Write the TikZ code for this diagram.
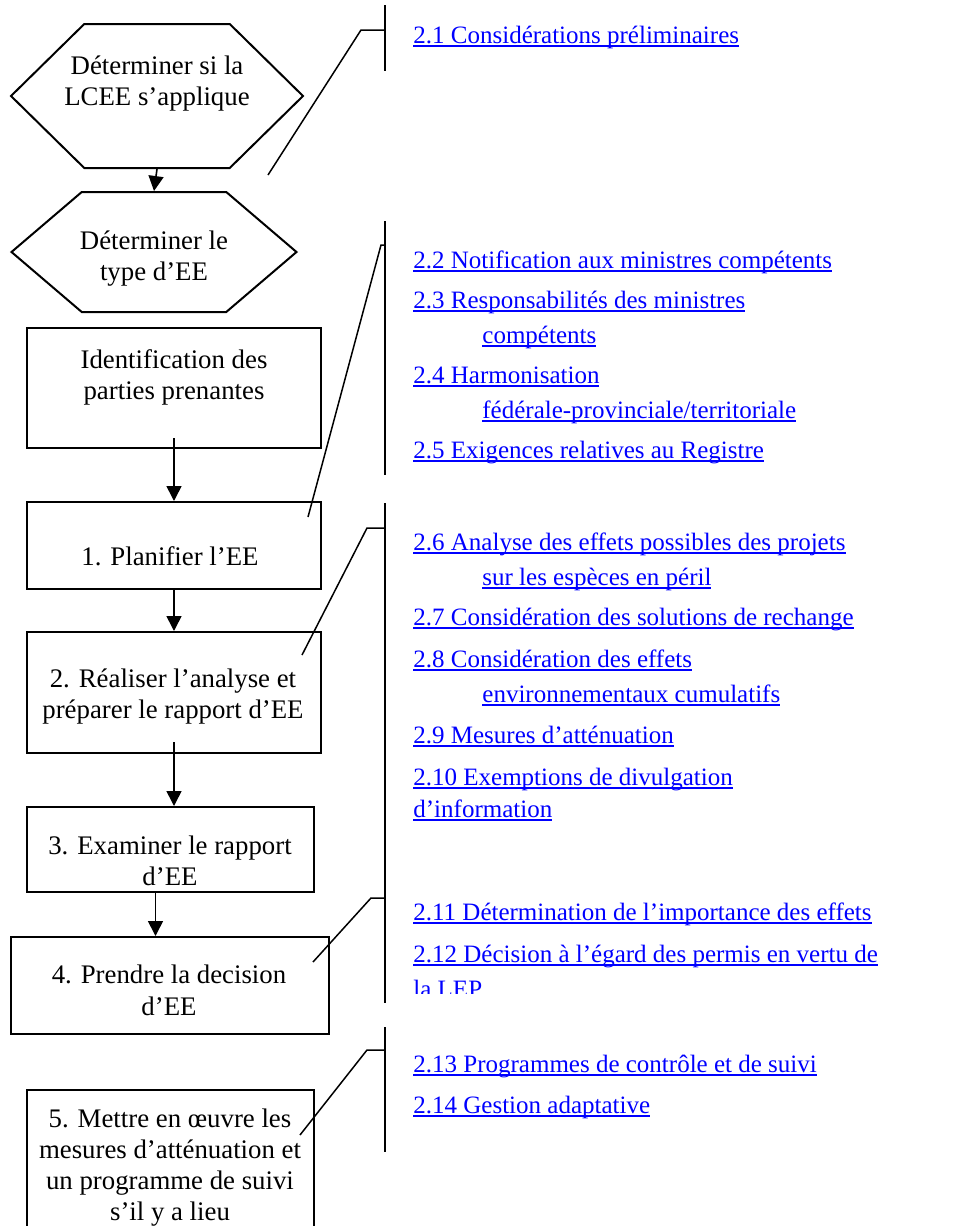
\documentclass[tikz,border=0pt]{standalone}
\usepackage{fontspec}
\setmainfont{Liberation Serif}
\usetikzlibrary{shapes.symbols}
\usetikzlibrary{arrows.meta}
\newcommand{\boxfont}{\fontsize{13.4pt}{15.5pt}\selectfont}
\newcommand{\reffont}{\fontsize{12.5pt}{17.5pt}\selectfont}
\newcommand{\uln}[1]{\leavevmode\setbox0\hbox{#1}\rlap{\rule[-1.9pt]{\wd0}{0.7pt}}\box0}

\begin{document}
\begin{tikzpicture}[x=0.5pt,y=-0.5pt,
  procbox/.style={draw,line width=1pt,rectangle,inner sep=0pt},
  hexbox/.style={draw,line width=1pt,shape=signal,signal to=west and east,inner sep=0pt},
  boxtext/.style={anchor=base,align=center,inner sep=0pt,font=\boxfont},
  reftext/.style={anchor=base west,inner sep=0pt,font=\reffont,text=blue},
  flow/.style={-{Triangle[width=7.5pt,length=7.5pt]},line width=0.8pt},
  bracket/.style={line width=1pt},
  pointer/.style={line width=0.75pt}]
 \useasboundingbox (0,0) rectangle (973,1226);
 \clip (0,0) rectangle (973,1226);
 % left column: steps (text nodes sit on the baseline of their last line)
 \node[hexbox,signal pointer angle=89,minimum width=146pt,minimum height=72pt] (lcee) at (157,96) {};
 \node[boxtext] (lceetext) at (157,105) {Déterminer si la\\LCEE s’applique};
 \node[hexbox,signal pointer angle=81,minimum width=142.5pt,minimum height=60pt] (typeee) at (154,252) {};
 \node[boxtext] (typeeetext) at (154,280) {Déterminer le\\type d’EE};
 \node[procbox,minimum width=147pt,minimum height=60pt] (ident) at (174,388) {};
 \node[boxtext] (identtext) at (174,399) {Identification des\\parties prenantes};
 \node[procbox,minimum width=147pt,minimum height=43.5pt] (plan) at (174,545.5) {};
 \node[boxtext] (plantext) at (170,565) {1. Planifier l’EE};
 \node[procbox,minimum width=147pt,minimum height=60.5pt] (analyse) at (174,692.5) {};
 \node[boxtext] (analysetext) at (173,718) {2. Réaliser l’analyse et\\préparer le rapport d’EE};
 \node[procbox,minimum width=143.5pt,minimum height=42.5pt] (examen) at (170.5,849.5) {};
 \node[boxtext] (examentext) at (170,885) {3. Examiner le rapport\\d’EE};
 \node[procbox,minimum width=159pt,minimum height=48.5pt] (decision) at (170,985.5) {};
 \node[boxtext] (decisiontext) at (169,1015) {4. Prendre la decision\\[0.5pt]d’EE};
 \node[procbox,minimum width=143.5pt,minimum height=80pt] (suivi) at (170.5,1170) {};
 \node[boxtext] (suivitext) at (170,1220) {5. Mettre en œuvre les\\mesures d’atténuation et\\un programme de suivi\\s’il y a lieu};
 % arrows
 \draw[flow] (lcee.south) -- (typeee.north);
 \draw[flow,shorten <=-5.5pt] (ident.south) -- (plan.north);
 \draw[flow] (plan.south) -- (analyse.south |- analyse.north);
 \draw[flow,shorten <=-6pt] (analyse.south) -- (analyse.south |- examen.north);
 \draw[flow] ([xshift=-7.5pt]examen.south) -- ([xshift=-7.5pt]examen.south |- decision.north);
 % brackets
 \draw[bracket] (385,5) -- (385,71);
 \draw[bracket] (385,221) -- (385,475);
 \draw[bracket] (385,503) -- (385,1003);
 \draw[bracket] (385,1027) -- (385,1152);
 \coordinate (tipa) at (268,175);
 \coordinate (tipb) at (308,517);
 \coordinate (tipc) at (302,655);
 \coordinate (tipd) at (313,962);
 \coordinate (tipe) at (300,1135);
 \draw[pointer] (tipa) -- (361,30) -- (385,30);
 \draw[pointer] (tipb) -- (381,245) -- (385,245);
 \draw[pointer] (tipc) -- (367,528) -- (385,528);
 \draw[pointer] (tipd) -- (371,898) -- (385,898);
 \draw[pointer] (tipe) -- (367,1050) -- (385,1050);
 % right column: sections
 \node[reftext] (s21) at (413,43) {\uln{2.1 Considérations préliminaires}};
 \node[reftext] (s22) at (413,268) {\uln{2.2 Notification aux ministres compétents}};
 \node[reftext] (s23) at (413,308) {\uln{2.3 Responsabilités des ministres}};
 \node[reftext] (s23b) at (482,343) {\uln{compétents}};
 \node[reftext] (s24) at (413,383) {\uln{2.4 Harmonisation}};
 \node[reftext] (s24b) at (482,418) {\uln{fédérale-provinciale/territoriale}};
 \node[reftext] (s25) at (413,458) {\uln{2.5 Exigences relatives au Registre}};
 \node[reftext] (s26) at (413,550) {\uln{2.6 Analyse des effets possibles des projets}};
 \node[reftext] (s26b) at (482,585) {\uln{sur les espèces en péril}};
 \node[reftext] (s27) at (413,625) {\uln{2.7 Considération des solutions de rechange}};
 \node[reftext] (s28) at (413,667) {\uln{2.8 Considération des effets}};
 \node[reftext] (s28b) at (482,702) {\uln{environnementaux cumulatifs}};
 \node[reftext] (s29) at (413,743) {\uln{2.9 Mesures d’atténuation}};
 \node[reftext] (s210) at (413,785) {\uln{2.10 Exemptions de divulgation}};
 \node[reftext] (s210b) at (413,817) {\uln{d’information}};
 \node[reftext] (s211) at (413,920) {\uln{2.11 Détermination de l’importance des effets}};
 \node[reftext] (s212) at (413,962) {\uln{2.12 Décision à l’égard des permis en vertu de}};
 \begin{scope}
  \clip (400,900) rectangle (973,993);
  \node[reftext] (s212b) at (413,997) {\uln{la LEP}};
 \end{scope}
 \node[reftext] (s213) at (413,1072) {\uln{2.13 Programmes de contrôle et de suivi}};
 \node[reftext] (s214) at (413,1113) {\uln{2.14 Gestion adaptative}};
\end{tikzpicture}
\end{document}
